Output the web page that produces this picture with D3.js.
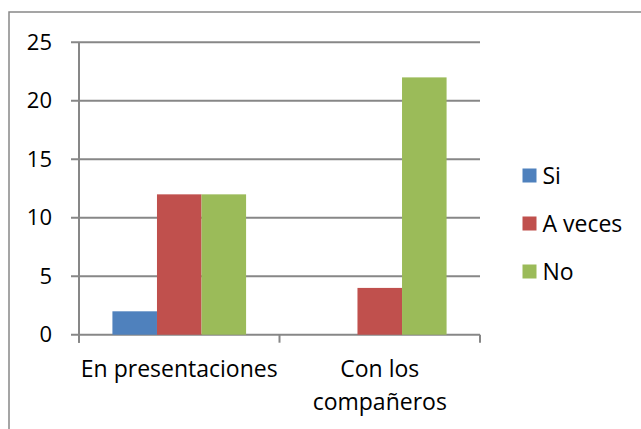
<!DOCTYPE html>
<html>
<head>
<meta charset="utf-8">
<script src="https://cdn.jsdelivr.net/npm/d3@7"></script>
<style>
  body { margin: 0; background: #fff; }
  text { font-family: "Open Sans", "Noto Sans", sans-serif; fill: #000; }
</style>
</head>
<body>
<div id="chart"></div>
<script>
// data
var categories = ["En presentaciones", "Con los compañeros"];
var seriesNames = ["Si", "A veces", "No"];
var siValues = [2, 0];
var aVecesValues = [12, 4];
var noValues = [12, 22];
var yTicks = [0, 5, 10, 15, 20, 25];
var colors = ["#4F81BD", "#C0504D", "#9BBB59"];

var series = [siValues, aVecesValues, noValues];

var svgWidth = 641;
var svgHeight = 429;
var margin = { top: 42.3, left: 79, right: 161, bottom: 94.3 };
var width = svgWidth - margin.left - margin.right;
var height = svgHeight - margin.top - margin.bottom;

var svg = d3.select("#chart")
  .append("svg")
  .attr("width", svgWidth)
  .attr("height", svgHeight);

// chart frame (cut off at right and bottom)
svg.append("rect")
  .attr("x", 9)
  .attr("y", 12)
  .attr("width", 700)
  .attr("height", 500)
  .attr("fill", "none")
  .attr("stroke", "#888")
  .attr("stroke-width", 1.5);

var chartGroup = svg.append("g")
  .attr("transform", `translate(${margin.left}, ${margin.top})`);

var xScale = d3.scaleBand()
  .domain(categories)
  .range([0, width]);

// Excel gap width 150%
var barW = xScale.bandwidth() / 4.5;

var yScale = d3.scaleLinear()
  .domain([0, 25])
  .range([height, 0]);

// gridlines
chartGroup.selectAll(".grid")
  .data(yTicks)
  .enter()
  .append("line")
  .attr("x1", -8)
  .attr("x2", width)
  .attr("y1", d => yScale(d))
  .attr("y2", d => yScale(d))
  .attr("stroke", "#878787")
  .attr("stroke-width", 2);

// y axis line
chartGroup.append("line")
  .attr("x1", 0).attr("x2", 0)
  .attr("y1", 0).attr("y2", height + 8)
  .attr("stroke", "#878787")
  .attr("stroke-width", 2);

// x ticks
var xTickPos = [0, xScale.bandwidth(), width];
chartGroup.selectAll(".xtick")
  .data(xTickPos)
  .enter()
  .append("line")
  .attr("x1", d => d).attr("x2", d => d)
  .attr("y1", height).attr("y2", height + 8)
  .attr("stroke", "#878787")
  .attr("stroke-width", 2);

// y labels
chartGroup.selectAll(".ylab")
  .data(yTicks)
  .enter()
  .append("text")
  .attr("x", -27)
  .attr("y", d => yScale(d) + 7.5)
  .attr("text-anchor", "end")
  .attr("font-size", "22px")
  .text(d => d);

// bars
series.forEach(function(vals, si) {
  chartGroup.selectAll(".bar" + si)
    .data(vals.map((v, i) => ({ cat: categories[i], v: v })))
    .enter()
    .append("rect")
    .attr("x", d => xScale(d.cat) + barW * 0.75 + barW * si)
    .attr("y", d => yScale(d.v))
    .attr("width", barW)
    .attr("height", d => height - yScale(d.v))
    .attr("fill", colors[si]);
});

// category labels
var catLines = [["En presentaciones"], ["Con los", "compañeros"]];
categories.forEach(function(c, i) {
  var cx = xScale(c) + xScale.bandwidth() / 2;
  var t = chartGroup.append("text")
    .attr("text-anchor", "middle")
    .attr("font-size", "23px")
    .attr("x", cx)
    .attr("y", height + 42.5);
  catLines[i].forEach(function(line, j) {
    t.append("tspan")
      .attr("x", cx)
      .attr("dy", j === 0 ? 0 : 32.5)
      .text(line);
  });
});

// legend
var legend = svg.append("g")
  .attr("transform", "translate(522.5, 175.5)");
seriesNames.forEach(function(name, i) {
  var g = legend.append("g").attr("transform", `translate(0, ${i * 48})`);
  g.append("rect")
    .attr("x", 0).attr("y", -7)
    .attr("width", 14).attr("height", 14)
    .attr("fill", colors[i]);
  g.append("text")
    .attr("x", 20)
    .attr("y", 8)
    .attr("font-size", "23px")
    .text(name);
});
</script>
</body>
</html>
